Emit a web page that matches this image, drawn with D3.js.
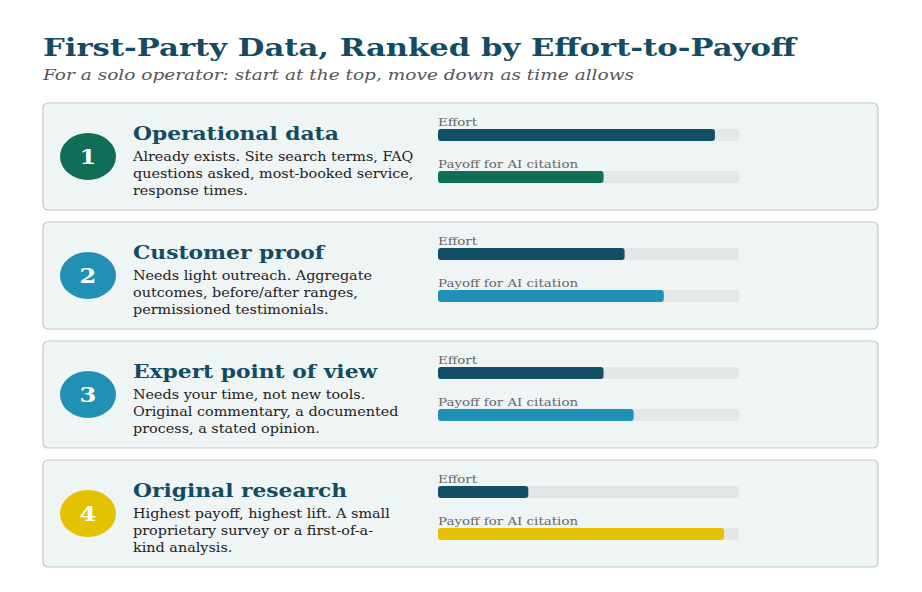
<!DOCTYPE html>
<html>
<head>
<meta charset="utf-8">
<script src="https://cdn.jsdelivr.net/npm/d3@7"></script>
<style>
body { margin: 0; background: #fff; }
svg { display: block; }
</style>
</head>
<body>
<svg id="chart"></svg>
<script>
// data
var ranks = [1, 2, 3, 4];
var titles = ["Operational data", "Customer proof", "Expert point of view", "Original research"];
var descLines = [
  ["Already exists. Site search terms, FAQ", "questions asked, most-booked service,", "response times."],
  ["Needs light outreach. Aggregate", "outcomes, before/after ranges,", "permissioned testimonials."],
  ["Needs your time, not new tools.", "Original commentary, a documented", "process, a stated opinion."],
  ["Highest payoff, highest lift. A small", "proprietary survey or a first-of-a-", "kind analysis."]
];
var effort = [92, 62, 55, 30];
var payoff = [55, 75, 65, 95];
var rankColors = ["#0f6e55", "#2190b5", "#2190b5", "#e5c200"];
var barLabels = ["Effort", "Payoff for AI citation"];

var W = 922, H = 592;
var svg = d3.select("#chart").attr("width", W).attr("height", H);

var navy = "#134b63";
var serif = "'DejaVu Serif', serif";

// text drawn a little wide, like the picture
function wideText(sel, x, y, hx) {
  return sel.append("text")
    .attr("transform", "translate(" + x + "," + y + ") scale(" + hx + ",1)")
    .style("font-family", serif);
}

wideText(svg, 43, 55.5, 1.238)
  .style("font-weight", "bold").style("font-size", "24.8px").attr("fill", navy)
  .text("First-Party Data, Ranked by Effort-to-Payoff");

wideText(svg, 43, 79.5, 1.305)
  .style("font-style", "italic").style("font-size", "14.2px").attr("fill", "#555")
  .text("For a solo operator: start at the top, move down as time allows");

var yScale = d3.scaleBand().domain(ranks).range([103, 567]).paddingInner(0.101).paddingOuter(0);

var trackX = 438, trackW = 301;
var xScale = d3.scaleLinear().domain([0, 100]).range([0, trackW]);

var cards = svg.selectAll("g.card")
  .data(ranks)
  .enter().append("g")
  .attr("class", "card")
  .attr("transform", function(d) { return "translate(0," + yScale(d) + ")"; });

cards.append("rect")
  .attr("x", 43).attr("y", 0)
  .attr("width", 835).attr("height", yScale.bandwidth())
  .attr("rx", 5).attr("ry", 5)
  .attr("fill", "#eff4f4").attr("stroke", "#c3c7c7").attr("stroke-width", 1.2);

cards.append("ellipse")
  .attr("cx", 88).attr("cy", yScale.bandwidth() / 2)
  .attr("rx", 28).attr("ry", 23.5)
  .attr("fill", function(d, i) { return rankColors[i]; });

cards.each(function(d, i) {
  var g = d3.select(this);
  wideText(g, 88, yScale.bandwidth() / 2 + 7.5, 1.15)
    .attr("text-anchor", "middle")
    .style("font-weight", "bold").style("font-size", "21px").attr("fill", "#fff")
    .text(d);

  wideText(g, 133, 36.5, 1.19)
    .style("font-weight", "bold").style("font-size", "18.3px").attr("fill", navy)
    .text(titles[i]);

  descLines[i].forEach(function(line, j) {
    wideText(g, 133, 58 + j * 17, 1.05)
      .style("font-size", "13.7px").attr("fill", "#222")
      .text(line);
  });

  // bars: effort then payoff
  var vals = [effort[i], payoff[i]];
  var cols = ["#124e66", rankColors[i]];
  var rowY = [26, 68];
  [0, 1].forEach(function(r) {
    wideText(g, trackX, rowY[r] - 3, 1.165)
      .style("font-size", "11.5px").attr("fill", "#666")
      .text(barLabels[r]);
    g.append("rect")
      .attr("x", trackX).attr("y", rowY[r])
      .attr("width", xScale(100)).attr("height", 12)
      .attr("rx", 3).attr("ry", 3)
      .attr("fill", "#e3e7e7");
    g.append("rect")
      .attr("x", trackX).attr("y", rowY[r])
      .attr("width", xScale(vals[r])).attr("height", 12)
      .attr("rx", 3).attr("ry", 3)
      .attr("fill", cols[r]);
  });
});
</script>
</body>
</html>
